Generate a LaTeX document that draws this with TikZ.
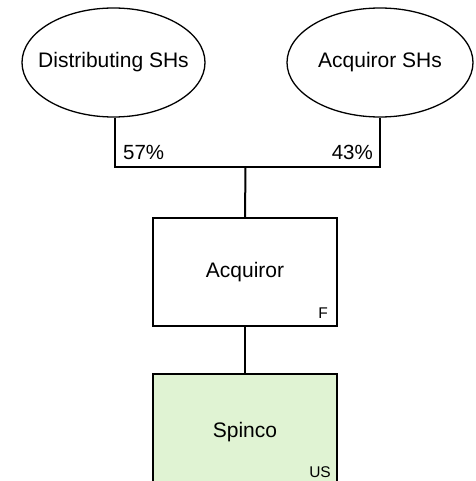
\documentclass[tikz,border=0pt]{standalone}
\usepackage{fontspec}
\setmainfont{Liberation Sans}
\usetikzlibrary{shapes.geometric}
\definecolor{spingreen}{HTML}{E0F3D3}
\begin{document}
\begin{tikzpicture}[x=1pt,y=-1pt,
  holder/.style={ellipse,draw,line width=1.3pt,minimum width=183pt,minimum height=109pt,inner sep=0pt,font=\fontsize{21}{25}\selectfont},
  entity/.style={rectangle,draw,line width=1.5pt,minimum width=184pt,minimum height=108pt,inner sep=0pt,font=\fontsize{21}{25}\selectfont},
  link/.style={line width=2pt},
  pct/.style={inner sep=0pt,font=\fontsize{20.5}{24}\selectfont},
  tag/.style={inner sep=0pt,font=\fontsize{15.5}{18}\selectfont}]
\useasboundingbox (0,0) rectangle (475,481);
\clip (0,0) rectangle (475,481);
\fill[white] (0,0) rectangle (475,481);

% shareholder groups (text boxed at zero width so the ellipse keeps its set size)
\node[holder] (dist) at (113.5,62.5) {\makebox[0pt]{Distributing SHs}};
\node[holder,minimum width=186pt] (acqsh) at (380,62.5) {\makebox[0pt]{Acquiror SHs}};

% entities (Spinco runs past the lower edge)
\node[entity] (acq) at (245,272) {Acquiror};
\node[entity,fill=spingreen,minimum height=116pt] (spin) at (245,432) {Spinco};

% ownership lines
\coordinate (jm) at (245.5,167);
\draw[link] (dist.south -| 115,0) |- (jm) -| (acqsh.south);
\draw[link] (jm) -- (acq.north);
\draw[link] (acq.south) -- (spin.north);

% labels
\node[pct,anchor=base west] (p57) at (123,159) {57\%};
\node[pct,anchor=base east] (p43) at (373,159) {43\%};
\node[tag,anchor=base east] (tf) at (328,318) {F};
\node[tag,anchor=base east] (tus) at (331,477) {US};
\end{tikzpicture}
\end{document}
